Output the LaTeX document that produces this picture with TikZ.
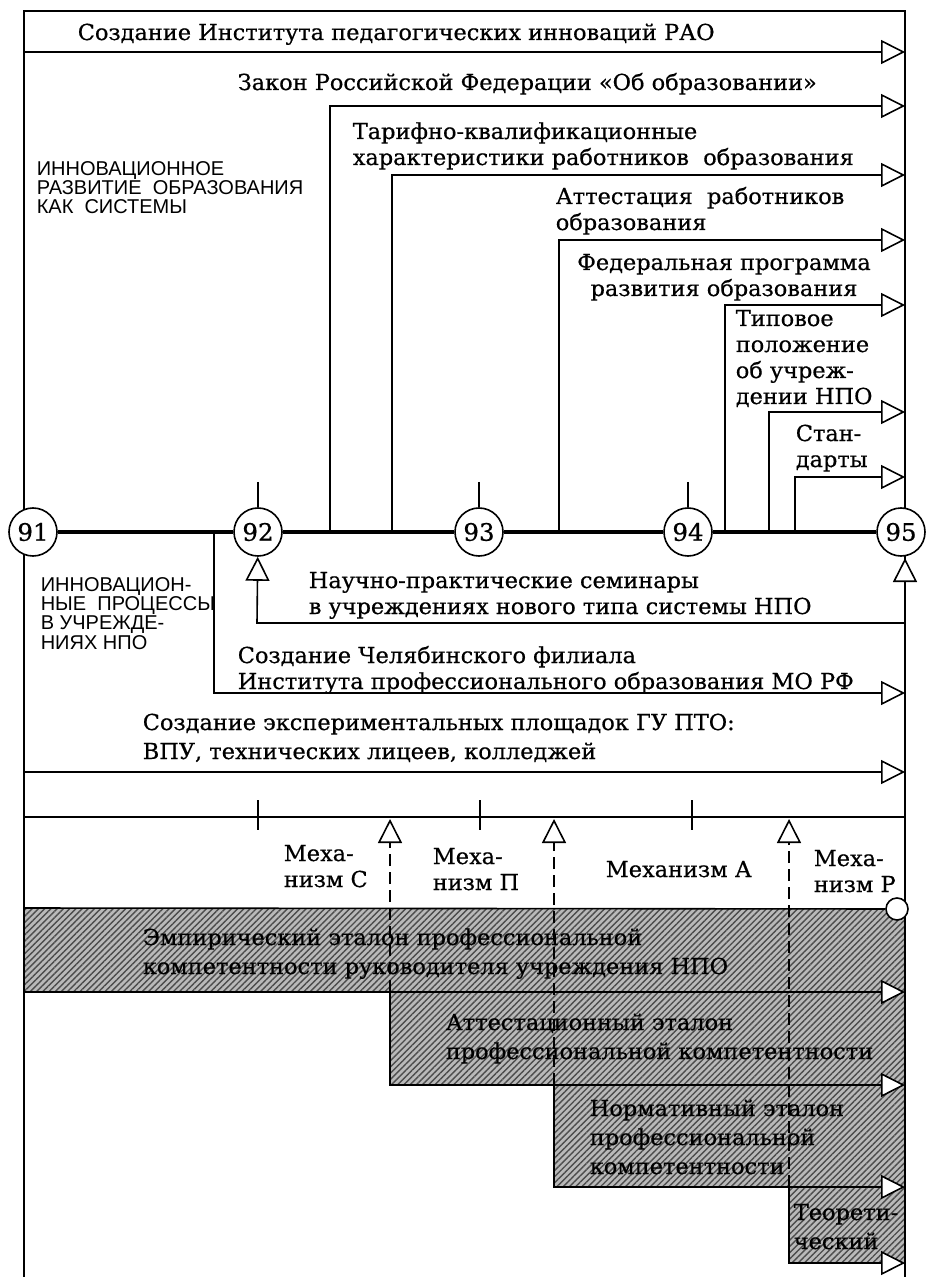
\documentclass[tikz,border=0pt]{standalone}
\usepackage{fontspec}
\setmainfont{DejaVu Serif}[FakeStretch=1.02, FakeBold=0.6]
\newfontfamily\capsfont{Liberation Sans}
\usetikzlibrary{arrows.meta,patterns.meta}

\begin{document}
\begin{tikzpicture}[x=0.5pt, y=-0.5pt, line width=0.8pt,
    every node/.style={inner sep=0pt},
    lbl/.style={font=\fontsize{11}{13}\selectfont, align=left, anchor=base west},
    wide/.style={font=\fontsize{11}{14.5}\selectfont, align=left, anchor=base west},
    caps/.style={font=\capsfont\fontsize{10}{9.6}\selectfont, align=left, anchor=base west},
    year/.style={circle, draw, fill=white, minimum size=24pt, font=\fontsize{12}{12}\selectfont},
    arr/.style={-{Triangle[open, fill=white, length=12pt, width=12pt]}},
    mechline/.style={dash pattern=on 6pt off 3pt},
    band/.style={preaction={fill=gray!55}, pattern={Lines[angle=45, distance=2.2pt, line width=0.7pt]}, pattern color=black!70}]
    \useasboundingbox (0,0) rectangle (928,1277);

    % Bands
    \path[band] (24,908) rectangle (905,992);
    \path[band] (390,992) rectangle (905,1085);
    \path[band] (554,1085) rectangle (905,1187);
    \path[band] (789,1187) rectangle (905,1263);

    % Frame
    \coordinate (tl) at (24,11);
    \coordinate (tr) at (905,11);
    \coordinate (bl) at (24,1277);
    \coordinate (br) at (905,1277);
    \draw (bl) -- (tl) -- (tr) -- (br);

    % Years
    \node[year] (y91) at (33,532) {91};
    \node[year] (y92) at (258,532) {92};
    \node[year] (y93) at (479,532) {93};
    \node[year] (y94) at (688,532) {94};
    \node[year] (y95) at (901,532) {95};
    \draw[line width=1.6pt] (y91) -- (y92);
    \draw[line width=1.6pt] (y92) -- (y93);
    \draw[line width=1.6pt] (y93) -- (y94);
    \draw[line width=1.6pt] (y94) -- (y95);

    % Ticks
    \coordinate (t92) at (258,482);
    \coordinate (t93) at (479,482);
    \coordinate (t94) at (688,482);
    \draw (t92) -- (y92);
    \draw (t93) -- (y93);
    \draw (t94) -- (y94);

    % Innovation of the system
    \coordinate (s1) at (24,52);
    \coordinate (e1) at (905,52);
    \coordinate (s2) at (330,532);
    \coordinate (e2) at (905,106);
    \coordinate (s3) at (392,532);
    \coordinate (e3) at (905,175);
    \coordinate (s4) at (559,532);
    \coordinate (e4) at (905,240);
    \coordinate (s5) at (725,532);
    \coordinate (e5) at (905,305);
    \coordinate (s6) at (769,532);
    \coordinate (e6) at (905,412);
    \coordinate (s7) at (795,532);
    \coordinate (e7) at (905,477);
    \draw[arr] (s1) -- (e1);
    \draw[arr] (s2) |- (e2);
    \draw[arr] (s3) |- (e3);
    \draw[arr] (s4) |- (e4);
    \draw[arr] (s5) |- (e5);
    \draw[arr] (s6) |- (e6);
    \draw[arr] (s7) |- (e7);

    \node[lbl] (rao) at (77,40) {Создание Института педагогических инноваций РАО};
    \node[lbl] (zakon) at (237,90) {Закон Российской Федерации «Об образовании»};
    \node[lbl] (tarif) at (352,165) {Тарифно-квалификационные\\характеристики работников\ \ образования};
    \node[lbl] (attest) at (555,230) {Аттестация\ \ работников\\образования};
    \node[lbl, align=center, anchor=base] (fedprog) at (724,296) {Федеральная программа\\развития образования};
    \node[lbl] (tipovoe) at (735,404) {Типовое\\положение\\об учреж-\\дении НПО};
    \node[lbl] (stand) at (795,467) {Стан-\\дарты};
    \node[caps] (sysdev) at (36,214) {ИННОВАЦИОННОЕ\\РАЗВИТИЕ\ \ ОБРАЗОВАНИЯ\\КАК\ \ СИСТЕМЫ};

    % Processes in the institutions
    \coordinate (sm1) at (257,623);
    \coordinate (sm2) at (905,623);
    \coordinate (p95) at (905,558);
    \draw[arr] (sm2) -- (sm1) -- (y92);
    \draw[arr] (sm2) -- (p95);
    \coordinate (ch0) at (214,532);
    \coordinate (ch1) at (905,693);
    \draw[arr] (ch0) |- (ch1);
    \coordinate (ex0) at (24,772);
    \coordinate (ex1) at (905,772);
    \draw[arr] (ex0) -- (ex1);

    \node[caps] (npoproc) at (40,649) {ИННОВАЦИОН-\\НЫЕ\ \ ПРОЦЕССЫ\\В УЧРЕЖДЕ-\\НИЯХ НПО};
    \node[lbl] (seminar) at (308,614) {Научно-практические семинары\\в учреждениях нового типа системы НПО};
    \node[lbl] (chel) at (237,689) {Создание Челябинского филиала\\Института профессионального образования МО РФ};
    \node[wide] (exper) at (142,759) {Создание экспериментальных площадок ГУ ПТО:\\ВПУ, технических лицеев, колледжей};

    % Mechanisms
    \coordinate (b0) at (24,817);
    \coordinate (b1) at (905,817);
    \draw[line width=1.3pt] (b0) -- (b1);
    \coordinate (k1a) at (258,800);
    \coordinate (k1b) at (258,830);
    \coordinate (k2a) at (480,800);
    \coordinate (k2b) at (480,830);
    \coordinate (k3a) at (692,800);
    \coordinate (k3b) at (692,830);
    \draw (k1a) -- (k1b);
    \draw (k2a) -- (k2b);
    \draw (k3a) -- (k3b);
    \coordinate (m1) at (390,992);
    \coordinate (m1t) at (390,819);
    \coordinate (m2) at (554,1085);
    \coordinate (m2t) at (554,819);
    \coordinate (m3) at (789,1187);
    \coordinate (m3t) at (789,819);
    \draw[arr, mechline] (m1) -- (m1t);
    \draw[arr, mechline] (m2) -- (m2t);
    \draw[arr, mechline] (m3) -- (m3t);

    \node[lbl] (mechC) at (283,887) {Меха-\\низм С};
    \node[lbl] (mechP) at (432,890) {Меха-\\низм П};
    \node[lbl] (mechA) at (605,877) {Механизм А};
    \node[lbl] (mechR) at (813,892) {Меха-\\низм Р};

    % Standards
    \node[circle, draw, fill=white, minimum size=11pt] (rp) at (897,909) {};
    \coordinate (et0) at (24,908);
    \draw (et0) -- (rp);
    \coordinate (eb0) at (24,992);
    \coordinate (eb1) at (905,992);
    \coordinate (ab1) at (905,1085);
    \coordinate (nb1) at (905,1187);
    \coordinate (tb1) at (905,1263);
    \draw[arr] (eb0) -- (eb1);
    \draw[arr] (m1) |- (ab1);
    \draw[arr] (m2) |- (nb1);
    \draw[arr] (m3) |- (tb1);

    \node[wide] (empir) at (142,974) {Эмпирический эталон профессиональной\\компетентности руководителя учреждения НПО};
    \node[wide] (attet) at (445,1059) {Аттестационный эталон\\профессиональной компетентности};
    \node[wide] (normet) at (589,1174) {Нормативный эталон\\профессиональной\\компетентности};
    \node[wide] (theoet) at (793,1249) {Теорети-\\ческий};
\end{tikzpicture}
\end{document}
